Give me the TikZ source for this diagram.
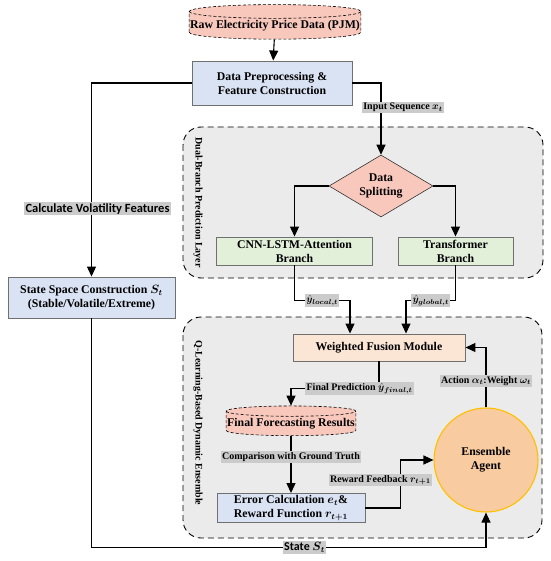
\documentclass[tikz,border=0pt]{standalone}
\usepackage{amsmath,amssymb,bm}
\usepackage{fontspec}
\setmainfont{Liberation Serif}
\newfontfamily\calib{Carlito}
\usepackage{tikz}
\usetikzlibrary{positioning,arrows.meta,shapes.geometric,backgrounds,calc}

\definecolor{pinkfill}{HTML}{F8C8BC}
\definecolor{bluefill}{HTML}{DAE3F3}
\definecolor{greenfill}{HTML}{E2EFD9}
\definecolor{peachfill}{HTML}{FBE5D5}
\definecolor{agentfill}{HTML}{F8CBA0}
\definecolor{agentline}{HTML}{FFC000}
\definecolor{groupgray}{HTML}{EBEBEB}
\definecolor{labgray}{HTML}{CBCBCB}
\definecolor{boxline}{HTML}{707070}

\tikzset{
  box/.style={draw=boxline,line width=0.9pt,align=center,inner sep=1pt},
  bluebox/.style={box,fill=bluefill},
  greenbox/.style={box,fill=greenfill},
  peachbox/.style={box,fill=peachfill},
  datacyl/.style={cylinder,shape border rotate=90,aspect=0.08,draw,densely dashed,line width=0.6pt,fill=pinkfill,inner xsep=1pt,inner ysep=2pt},
  lab/.style={fill=labgray,inner sep=1.2pt,font=\bfseries\fontsize{10}{11}\selectfont},
  flow/.style={->,line width=1.1pt},
  group/.style={draw,dash pattern=on 6pt off 4pt,line width=0.9pt,fill=groupgray,rounded corners=18pt},
  grouptitle/.style={rotate=-90,font=\bfseries\fontsize{10}{11}\selectfont}
}

\begin{document}
\begin{tikzpicture}[x=1pt,y=-1pt,font=\bfseries\fontsize{11.8}{14}\selectfont,>={Triangle[width=9pt,length=10pt]}]
\useasboundingbox (0,0) rectangle (550,561);

% nodes
\node[datacyl] (raw) at (275,26) {Raw Electricity Price Data (PJM)};
\node[bluebox,minimum width=160,minimum height=44] (prep) at (272,83) {Data Preprocessing \&\\Feature Construction};
\node[bluebox,minimum width=167,minimum height=41] (state) at (91.5,297.5) {State Space Construction $\bm{S_t}$\\(Stable/Volatile/Extreme)};
\node[diamond,draw=black!80,line width=0.6pt,fill=pinkfill,aspect=1.68,minimum width=104,minimum height=62,inner sep=0pt,align=center] (split) at (381,186) {Data\\Splitting};
\node[greenbox,minimum width=156,minimum height=28] (cnn) at (294.5,251) {CNN-LSTM-Attention\\Branch};
\node[greenbox,minimum width=115,minimum height=28] (trans) at (455.5,251) {Transformer\\Branch};
\node[peachbox,minimum width=172,minimum height=27] (fusion) at (379,347.5) {Weighted Fusion Module};
\node[datacyl] (final) at (291,424) {Final Forecasting Results};
\node[bluebox,minimum width=148,minimum height=29] (error) at (291,508) {Error Calculation $\bm{e_t}$\&\\Reward Function $\bm{r_{t+1}}$};
\node[circle,draw=agentline,line width=1.1pt,fill=agentfill,minimum size=104,align=center,inner sep=0pt] (agent) at (486,460) {Ensemble\\Agent};

% layer frames
\begin{scope}[on background layer]
\draw[group] (183,127) rectangle (543,278);
\draw[group] (183,317) rectangle (542,538);
\end{scope}
\node[grouptitle] (dualtitle) at (198,202.5) {Dual-Branch Prediction Layer};
\node[grouptitle] (qtitle) at (198,423) {Q-Learning-Based Dynamic Ensemble};

% connectors
\draw[flow] (raw) -- (prep);
\draw[flow] (prep.west) -| node[lab,pos=0.825,xshift=6,font=\calib\bfseries\fontsize{12.5}{13}\selectfont]{Calculate Volatility Features} (state.north);
\draw[flow] (prep.east) -| node[lab,pos=0.67,xshift=22]{Input Sequence $\bm{x_t}$} (split.north);
\draw[flow] (split.west) -| (cnn.north);
\draw[flow] (split.east) -| (trans.north);
\draw[flow] (cnn.south) -- ++(0,35) -| node[lab,pos=0.25]{$\bm{\hat{y}_{local,t}}$} ([xshift=-29]fusion.north);
\draw[flow] (trans.south) -- ++(0,35) -| node[lab,pos=0.25]{$\bm{\hat{y}_{global,t}}$} ([xshift=27]fusion.north);
\draw[flow] (fusion.south) -- ++(0,27) -| node[lab,pos=0.11]{Final Prediction $\bm{\hat{y}_{final,t}}$} (final.north);
\draw[flow] (final.south) -- node[lab,pos=0.37]{Comparison with Ground Truth} (error.north);
\draw[flow] (error.east) -- ++(35,0) |- node[lab,pos=0.29,xshift=-20]{Reward Feedback $\bm{r_{t+1}}$} (agent.west);
\draw[flow] (agent.north) |- node[lab,pos=0.22]{Action $\bm{\alpha_t}$:Weight $\bm{\omega_t}$} (fusion.east);
\draw[flow] (state.south) -- ++(0,229) -| node[lab,pos=0.27,font=\calib\bfseries\fontsize{12}{13}\selectfont]{State $\bm{S_t}$} (agent.south);
\end{tikzpicture}
\end{document}
